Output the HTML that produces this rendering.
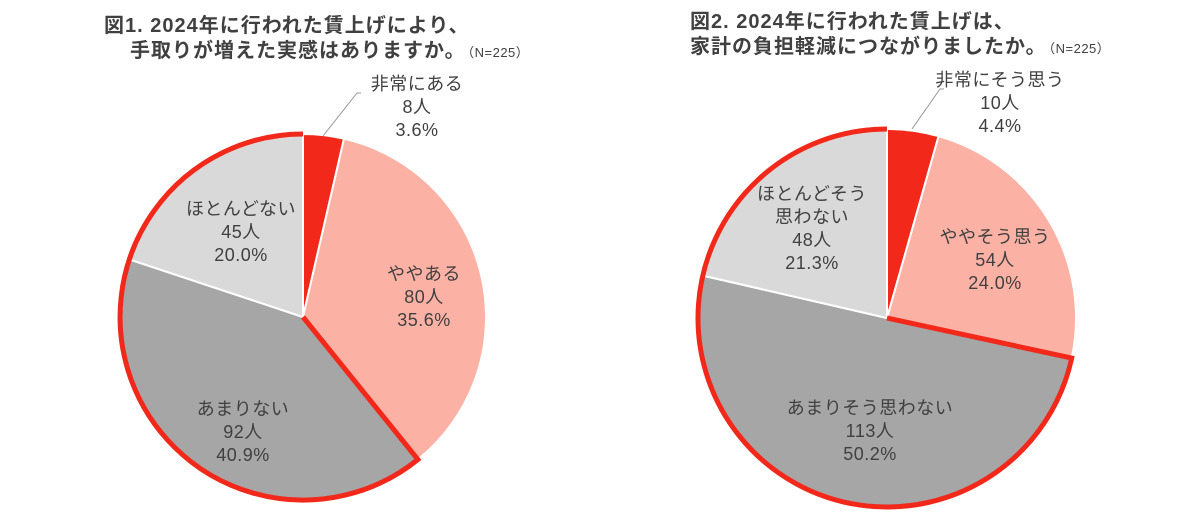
<!DOCTYPE html>
<html><head><meta charset="utf-8"><style>
html,body{margin:0;padding:0;background:#fff;}
svg{display:block;font-family:"Liberation Sans","Noto Sans CJK JP",sans-serif;}
</style></head><body>
<svg width="1200" height="515" viewBox="0 0 1200 515">
<g fill="#404040" font-weight="bold" font-size="20" letter-spacing="1">
<text x="104" y="32">図1. 2024年に行われた賃上げにより、</text>
<text x="130" y="57">手取りが増えた実感はありますか。<tspan font-size="13" font-weight="normal" dx="2" letter-spacing="0.5">（N=225）</tspan></text>
<text x="690" y="28">図2. 2024年に行われた賃上げは、</text>
<text x="690" y="53">家計の負担軽減につながりましたか。<tspan font-size="13" font-weight="normal" dx="2" letter-spacing="0.5">（N=225）</tspan></text>
</g>
<!-- chart 1 -->
<g stroke="#fff" stroke-width="2">
<path d="M303,317 L303,134 A183,183 0 0 1 344,138.7 Z" fill="#f2281a"/>
<path d="M303,317 L344,138.7 A183,183 0 0 1 417.9,459.5 Z" fill="#fbb1a4"/>
<path d="M303,317 L417.9,459.5 A183,183 0 0 1 129.3,259.4 Z" fill="#a6a6a6"/>
<path d="M303,317 L129.3,259.4 A183,183 0 0 1 303,134 Z" fill="#d9d9d9"/>
</g>
<path d="M303,317 L417.9,459.5 A183,183 0 1 1 303,134" fill="none" stroke="#f2281a" stroke-width="5" stroke-linejoin="miter"/>
<polyline points="361,93 357,93 323,136" fill="none" stroke="#999" stroke-width="1"/>
<!-- chart 2 -->
<g stroke="#fff" stroke-width="2">
<path d="M887,318 L887,129 A189,189 0 0 1 938.6,136.2 Z" fill="#f2281a"/>
<path d="M887,318 L938.6,136.2 A189,189 0 0 1 1071.7,358.1 Z" fill="#fbb1a4"/>
<path d="M887,318 L1071.7,358.1 A189,189 0 0 1 702.8,275.6 Z" fill="#a6a6a6"/>
<path d="M887,318 L702.8,275.6 A189,189 0 0 1 887,129 Z" fill="#d9d9d9"/>
</g>
<path d="M887,318 L1071.7,358.1 A189,189 0 1 1 887,129" fill="none" stroke="#f2281a" stroke-width="5" stroke-linejoin="miter"/>
<polyline points="944,89 940,89 912,129" fill="none" stroke="#999" stroke-width="1"/>
<g fill="#404040" font-size="18" text-anchor="middle" letter-spacing="0.5">
<text x="417" y="90">非常にある</text><text x="417" y="113">8人</text><text x="417" y="136">3.6%</text>
<text x="241" y="215">ほとんどない</text><text x="241" y="238">45人</text><text x="241" y="261">20.0%</text>
<text x="424" y="280">ややある</text><text x="424" y="303">80人</text><text x="424" y="326">35.6%</text>
<text x="243" y="415">あまりない</text><text x="243" y="438">92人</text><text x="243" y="461">40.9%</text>
<text x="1000" y="86">非常にそう思う</text><text x="1000" y="109">10人</text><text x="1000" y="132">4.4%</text>
<text x="812" y="200">ほとんどそう</text><text x="812" y="223">思わない</text><text x="812" y="246">48人</text><text x="812" y="269">21.3%</text>
<text x="995" y="243">ややそう思う</text><text x="995" y="266">54人</text><text x="995" y="289">24.0%</text>
<text x="870" y="414">あまりそう思わない</text><text x="870" y="437">113人</text><text x="870" y="460">50.2%</text>
</g>
</svg>
</body></html>
